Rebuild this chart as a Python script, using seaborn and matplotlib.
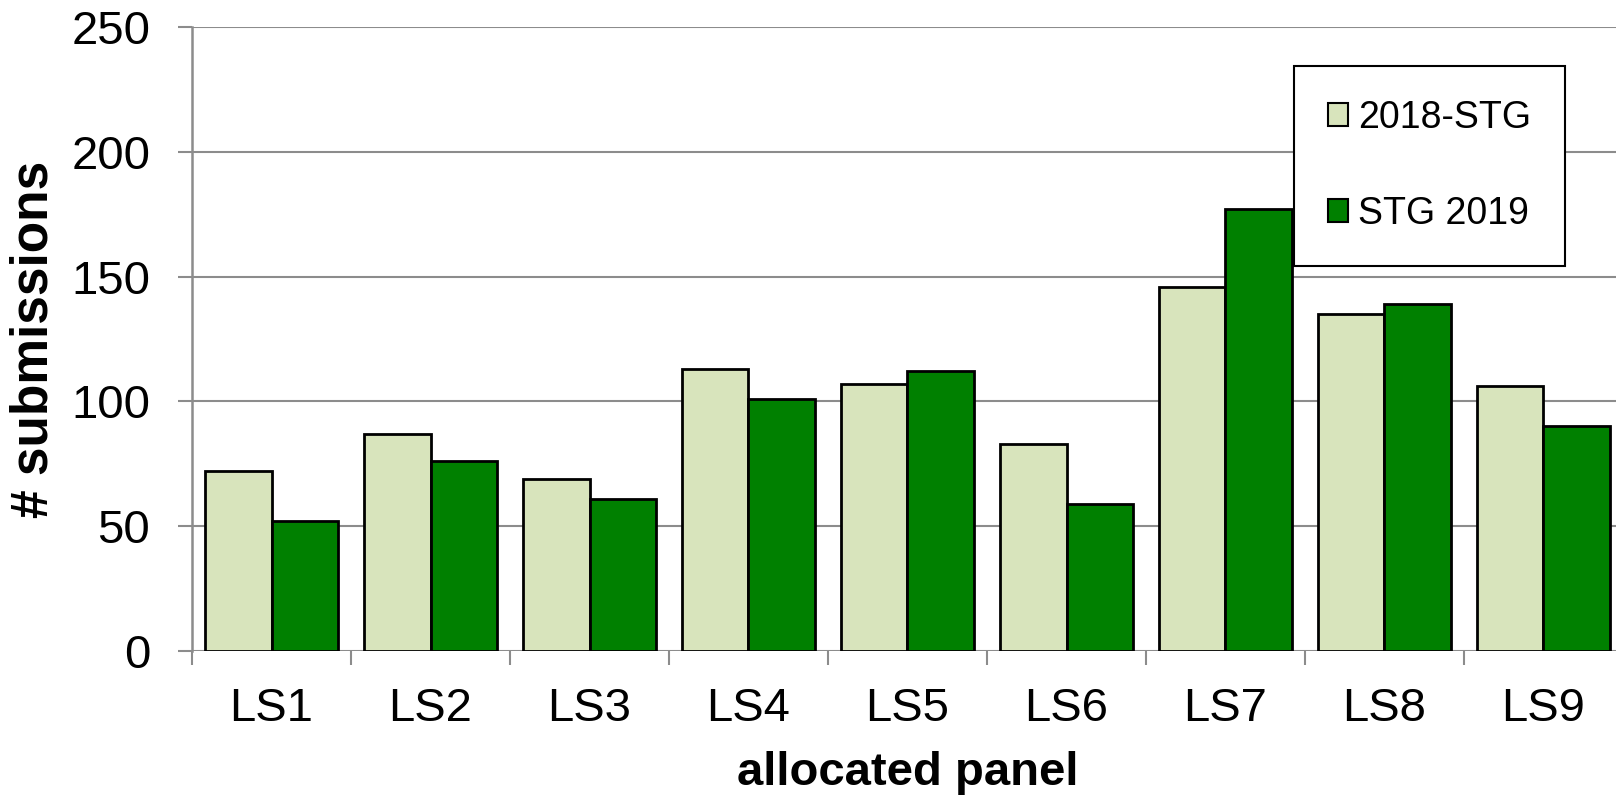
import pandas as pd
import numpy as np
import matplotlib
matplotlib.use('Agg')
import matplotlib.pyplot as plt
import seaborn as sns

# values
panels = ['LS1', 'LS2', 'LS3', 'LS4', 'LS5', 'LS6', 'LS7', 'LS8', 'LS9']
stg_2018 = [72, 87, 69, 113, 107, 83, 146, 135, 106]
stg_2019 = [52, 76, 61, 101, 112, 59, 177, 139, 90]
series = ['2018-STG', 'STG 2019']
colors = ['#D8E4BC', '#008000']
y_ticks = [0, 50, 100, 150, 200, 250]

df = pd.DataFrame({
    'panel': panels * 2,
    'series': [series[0]] * len(panels) + [series[1]] * len(panels),
    'submissions': stg_2018 + stg_2019,
})

sns.set_theme(style='white')
plt.rcParams['font.family'] = ['Liberation Sans', 'DejaVu Sans']
plt.rcParams['text.color'] = 'black'
plt.rcParams['axes.labelcolor'] = 'black'
plt.rcParams['xtick.color'] = 'black'
plt.rcParams['ytick.color'] = 'black'

fig = plt.figure(figsize=(16.16, 7.95), dpi=100)
ax = fig.add_axes([192 / 1616, 1 - 651 / 795, 1431 / 1616, 624 / 795])

sns.barplot(data=df, x='panel', y='submissions', hue='series', palette=colors,
            saturation=1, width=0.84, edgecolor='black', linewidth=2.0, ax=ax, legend=False)

grid_c = '#8c8c8c'
ax.set_ylim(0, 250)
ax.set_xlim(-0.5, len(panels) - 0.5)
ax.set_yticks(y_ticks)
ax.yaxis.grid(True, color=grid_c, linewidth=1.5)
ax.set_axisbelow(True)
for side in ['top', 'right', 'bottom']:
    ax.spines[side].set_visible(False)
ax.spines['left'].set_color(grid_c)
ax.spines['left'].set_linewidth(1.8)
ax.axhline(0, color=grid_c, linewidth=1.8, zorder=0.5)

ax.tick_params(axis='y', length=10, width=1.5, color=grid_c, labelcolor='black',
               pad=20, labelsize=34, left=True)
ax.tick_params(axis='x', which='major', length=0, pad=26, labelsize=34, labelcolor='black')
ax.set_xticks(np.arange(-0.5, len(panels), 1.0), minor=True)
ax.tick_params(axis='x', which='minor', length=10, width=1.5, color=grid_c, bottom=True)

ax.set_xlabel('allocated panel', fontsize=34, fontweight='bold', labelpad=14)
ax.set_ylabel('# submissions', fontsize=37, fontweight='bold', labelpad=9)

handles = [plt.Rectangle((0, 0), 1, 1, facecolor=c, edgecolor='black', linewidth=1.5) for c in colors]
leg = fig.legend(handles, series, loc='upper left', bbox_to_anchor=(1294 / 1616, 1 - 66 / 795),
                 fontsize=27, frameon=True, fancybox=False, shadow=False,
                 handlelength=0.55, handleheight=0.55, handletextpad=0.25,
                 labelspacing=1.6, borderpad=0.9, borderaxespad=0)
leg.get_frame().set_edgecolor('black')
leg.get_frame().set_linewidth(1.5)
leg.get_frame().set_alpha(1)

fig.savefig('out.png', dpi=100)
